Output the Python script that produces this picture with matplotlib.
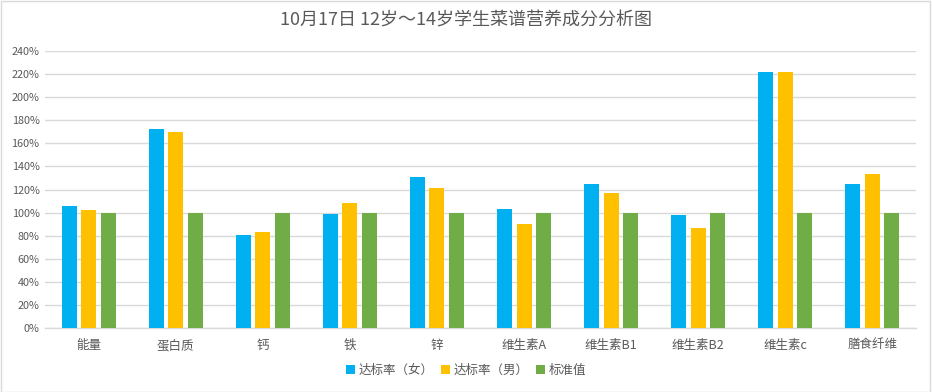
import matplotlib.pyplot as plt
import numpy as np
from matplotlib.patches import Rectangle

plt.rcParams['font.family'] = ['Noto Sans CJK SC', 'DejaVu Sans']

categories = ["能量", "蛋白质", "钙", "铁", "锌", "维生素A", "维生素B1", "维生素B2", "维生素c", "膳食纤维"]
female = [105.5, 172, 81, 98.5, 130.5, 103.5, 125, 97.5, 222, 124.5]
male = [102.5, 169.5, 83, 108, 121, 90.5, 117, 87, 222, 133]
standard = [100] * 10
series_names = ["达标率（女）", "达标率（男）", "标准值"]
colors = ["#00B0F0", "#FFC000", "#70AD47"]
text_color = "#595959"

fig = plt.figure(figsize=(9.32, 3.92), dpi=100)
ax = fig.add_axes([45 / 932, 1 - 328 / 392, 871 / 932, 277 / 392])

x = np.arange(len(categories))
w = 0.172
step = 0.224
bars = []
for i, (vals, c) in enumerate(zip([female, male, standard], colors)):
    bars.append(ax.bar(x + (i - 1) * step, vals, width=w, color=c, zorder=3))

ax.set_xlim(-0.5, len(categories) - 0.5)
ax.set_ylim(0, 240)
yt = np.arange(0, 241, 20)
ax.set_yticks(yt)
ax.set_yticklabels([f"{v}%" for v in yt], fontsize=7.8, color=text_color)
ax.set_xticks(x)
ax.set_xticklabels(categories, fontsize=9, color=text_color)
ax.tick_params(axis="both", length=0)
ax.tick_params(axis="x", pad=8)
ax.tick_params(axis="y", pad=4)
ax.grid(axis="y", color="#D9D9D9", linewidth=1, zorder=0)
for s in ["top", "right", "left"]:
    ax.spines[s].set_visible(False)
ax.spines["bottom"].set_color("#D9D9D9")
ax.spines["bottom"].set_linewidth(1)

fig.suptitle("10月17日 12岁～14岁学生菜谱营养成分分析图", y=0.97, fontsize=13, color=text_color)

fig.legend(bars, series_names, loc="center", bbox_to_anchor=(0.5, 1 - 370 / 392), ncol=3,
           frameon=False, fontsize=9, handlelength=0.7, handleheight=0.7, handletextpad=0.3,
           columnspacing=0.6, labelcolor=text_color)

fig.patches.append(Rectangle((0.001, 0.001), 0.997, 0.997, transform=fig.transFigure,
                             fill=False, edgecolor="#D9D9D9", linewidth=1))

fig.savefig("out.png", dpi=100)
